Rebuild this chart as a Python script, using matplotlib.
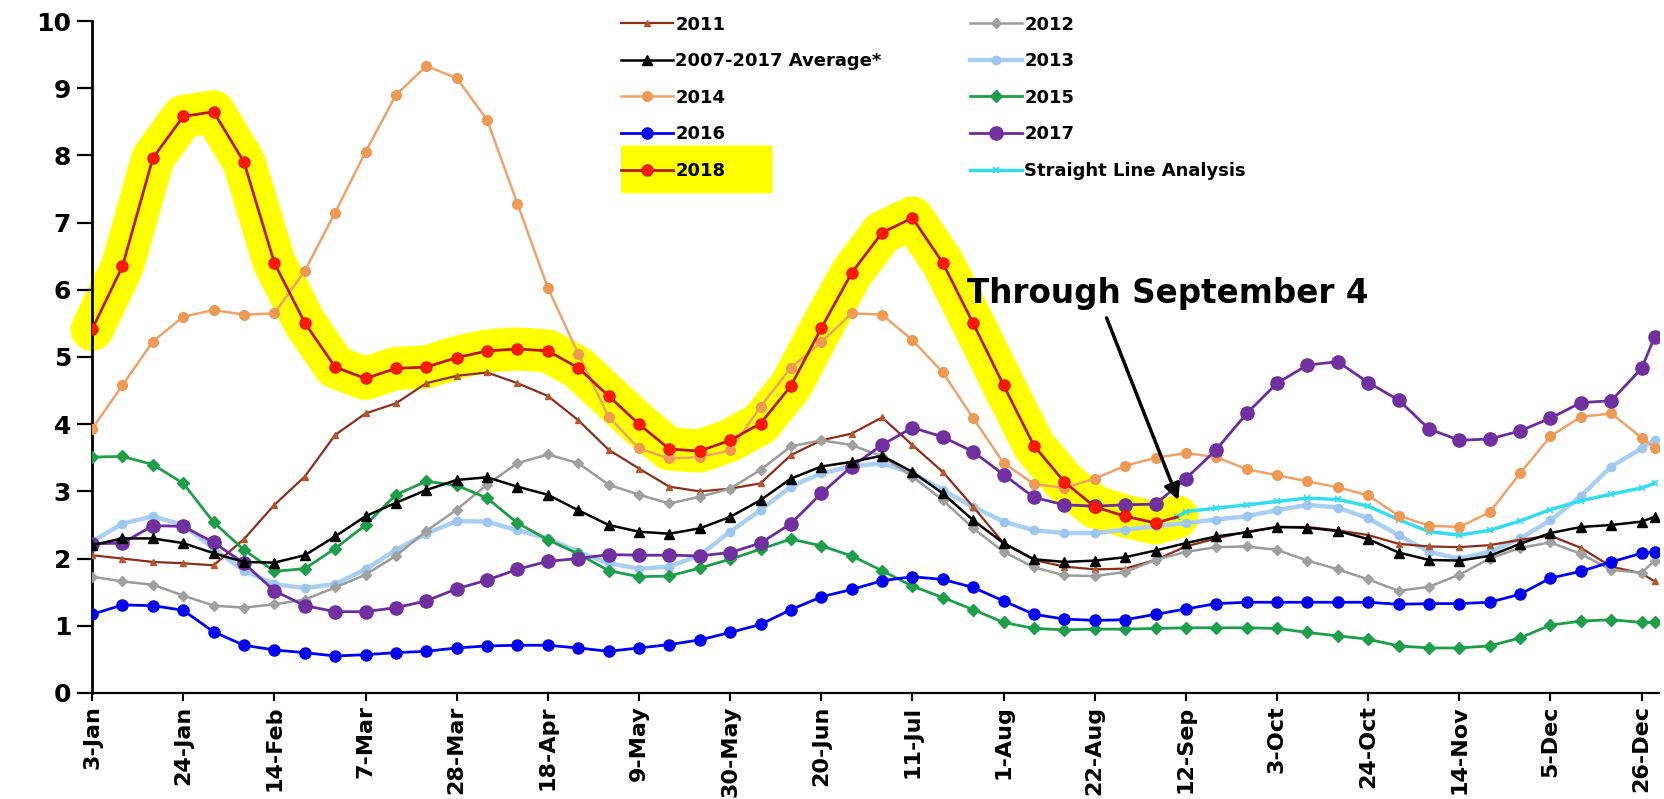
import matplotlib
matplotlib.use("Agg")
import matplotlib.pyplot as plt
from matplotlib.patches import FancyBboxPatch

#
# Data -- weekly values, x given as days after 3-Jan (last point is 29-Dec)
#
days = list(range(0, 358, 7)) + [360]
tick_days = list(range(0, 358, 21))
tick_labels = ["3-Jan", "24-Jan", "14-Feb", "7-Mar", "28-Mar", "18-Apr", "9-May",
               "30-May", "20-Jun", "11-Jul", "1-Aug", "22-Aug", "12-Sep", "3-Oct",
               "24-Oct", "14-Nov", "5-Dec", "26-Dec"]

y2011 = [2.05, 2.00, 1.95, 1.93, 1.90, 2.29, 2.80, 3.22, 3.84, 4.16,
         4.31, 4.61, 4.72, 4.77, 4.61, 4.42, 4.06, 3.62, 3.34, 3.07,
         3.00, 3.04, 3.12, 3.54, 3.76, 3.86, 4.10, 3.69, 3.29, 2.77,
         2.23, 1.98, 1.88, 1.84, 1.85, 1.98, 2.18, 2.30, 2.40, 2.47,
         2.47, 2.42, 2.35, 2.22, 2.18, 2.17, 2.20, 2.28, 2.34, 2.16,
         1.88, 1.78, 1.66]

y_avg = [2.20, 2.30, 2.30, 2.23, 2.08, 1.95, 1.94, 2.05, 2.33, 2.63,
         2.83, 3.02, 3.17, 3.21, 3.07, 2.95, 2.72, 2.50, 2.40, 2.37,
         2.45, 2.62, 2.87, 3.19, 3.37, 3.44, 3.53, 3.29, 2.97, 2.57,
         2.23, 1.99, 1.95, 1.97, 2.02, 2.12, 2.23, 2.33, 2.39, 2.47,
         2.46, 2.41, 2.29, 2.09, 1.98, 1.97, 2.04, 2.22, 2.38, 2.47,
         2.50, 2.55, 2.62]

y2014 = [3.93, 4.58, 5.23, 5.60, 5.70, 5.63, 5.65, 6.28, 7.15, 8.05,
         8.90, 9.33, 9.15, 8.53, 7.28, 6.03, 5.05, 4.11, 3.64, 3.49,
         3.51, 3.61, 4.26, 4.84, 5.22, 5.65, 5.63, 5.25, 4.77, 4.09,
         3.42, 3.11, 3.05, 3.19, 3.38, 3.50, 3.57, 3.51, 3.33, 3.24,
         3.15, 3.06, 2.94, 2.64, 2.49, 2.47, 2.69, 3.27, 3.82, 4.11,
         4.16, 3.80, 3.65]

y2016 = [1.17, 1.31, 1.30, 1.23, 0.91, 0.71, 0.64, 0.60, 0.55, 0.57,
         0.60, 0.62, 0.67, 0.70, 0.71, 0.71, 0.67, 0.62, 0.67, 0.72,
         0.79, 0.90, 1.02, 1.24, 1.43, 1.54, 1.67, 1.73, 1.69, 1.57,
         1.37, 1.17, 1.10, 1.08, 1.09, 1.17, 1.25, 1.33, 1.35, 1.35,
         1.35, 1.35, 1.35, 1.32, 1.33, 1.33, 1.35, 1.47, 1.71, 1.81,
         1.95, 2.08, 2.10]

# 2018 runs through early September; last entry is the partial week
days2018 = days[:36] + [250]
y2018 = [5.41, 6.35, 7.96, 8.58, 8.65, 7.90, 6.40, 5.51, 4.85, 4.68,
         4.83, 4.85, 4.99, 5.09, 5.12, 5.09, 4.84, 4.42, 4.00, 3.63,
         3.60, 3.76, 4.01, 4.57, 5.43, 6.25, 6.85, 7.07, 6.40, 5.50,
         4.58, 3.68, 3.14, 2.77, 2.63, 2.53, 2.62]

y2012 = [1.73, 1.66, 1.61, 1.45, 1.30, 1.27, 1.32, 1.39, 1.57, 1.76,
         2.04, 2.41, 2.73, 3.10, 3.42, 3.55, 3.42, 3.10, 2.95, 2.82,
         2.92, 3.04, 3.32, 3.67, 3.76, 3.69, 3.52, 3.22, 2.87, 2.45,
         2.10, 1.87, 1.75, 1.74, 1.80, 1.98, 2.10, 2.17, 2.18, 2.13,
         1.97, 1.84, 1.69, 1.52, 1.58, 1.76, 2.00, 2.16, 2.24, 2.07,
         1.83, 1.79, 1.97]

y2013 = [2.25, 2.52, 2.63, 2.50, 2.15, 1.82, 1.62, 1.56, 1.62, 1.84,
         2.13, 2.37, 2.56, 2.55, 2.42, 2.30, 2.10, 1.93, 1.85, 1.88,
         2.05, 2.40, 2.72, 3.07, 3.27, 3.37, 3.42, 3.27, 3.02, 2.77,
         2.55, 2.42, 2.38, 2.38, 2.43, 2.48, 2.53, 2.58, 2.63, 2.72,
         2.80, 2.76, 2.60, 2.35, 2.10, 2.00, 2.10, 2.30, 2.57, 2.93,
         3.37, 3.64, 3.76]

y2015 = [3.51, 3.52, 3.40, 3.12, 2.54, 2.13, 1.81, 1.85, 2.15, 2.50,
         2.95, 3.15, 3.09, 2.90, 2.53, 2.28, 2.07, 1.82, 1.73, 1.74,
         1.86, 1.99, 2.14, 2.29, 2.19, 2.04, 1.82, 1.59, 1.42, 1.24,
         1.05, 0.96, 0.94, 0.95, 0.95, 0.96, 0.97, 0.97, 0.97, 0.96,
         0.90, 0.85, 0.80, 0.70, 0.67, 0.67, 0.70, 0.82, 1.01, 1.07,
         1.09, 1.05, 1.05]

y2017 = [2.22, 2.23, 2.49, 2.48, 2.24, 1.93, 1.52, 1.30, 1.21, 1.21,
         1.27, 1.37, 1.55, 1.68, 1.84, 1.96, 2.00, 2.06, 2.05, 2.05,
         2.04, 2.09, 2.23, 2.52, 2.97, 3.37, 3.69, 3.95, 3.81, 3.59,
         3.25, 2.91, 2.80, 2.78, 2.80, 2.81, 3.19, 3.62, 4.16, 4.61,
         4.88, 4.93, 4.62, 4.36, 3.93, 3.76, 3.78, 3.90, 4.09, 4.32,
         4.35, 4.83, 5.30]

# Straight line projection for the rest of 2018
days_sla = [250] + days[36:]
y_sla = [2.62, 2.70, 2.75, 2.80, 2.85, 2.90, 2.88, 2.78, 2.58, 2.40,
         2.35, 2.42, 2.56, 2.73, 2.86, 2.96, 3.05, 3.12]

plt.rcParams["font.family"] = "DejaVu Sans"
plt.rcParams["font.weight"] = "bold"

fig = plt.figure(figsize=(16.65, 7.99), dpi=100)
ax = fig.add_axes([0.0553, 0.1327, 0.9411, 0.841])

# Yellow highlighter behind 2018
ax.plot(days2018, y2018, color="#FFFF00", lw=31, solid_capstyle="round",
        solid_joinstyle="round", zorder=1, clip_on=False)

l11, = ax.plot(days, y2011, color="#8B2F1A", lw=1.6, marker="^", ms=5,
               mfc="#B5562E", mec="#B5562E", zorder=3, label="2011")
l12, = ax.plot(days, y2012, color="#9C9C9C", lw=1.8, marker="D", ms=5,
               mfc="#A0A0A0", mec="#A0A0A0", zorder=3, label="2012")
l13, = ax.plot(days, y2013, color="#A9CFF2", lw=3.2, marker="o", ms=6,
               mfc="#9DC6EE", mec="#9DC6EE", zorder=2, label="2013")
lsl, = ax.plot(days_sla, y_sla, color="#33DDEE", lw=2.5, marker="x", ms=4,
               mew=1.2, zorder=3, label="Straight Line Analysis")
lav, = ax.plot(days, y_avg, color="black", lw=1.8, marker="^", ms=7,
               zorder=4, label="2007-2017 Average*")
l14, = ax.plot(days, y2014, color="#EFA36A", lw=1.8, marker="o", ms=7,
               mfc="#EE9A55", mec="#EE9A55", zorder=3, label="2014")
l15, = ax.plot(days, y2015, color="#1C9E4A", lw=2, marker="D", ms=6,
               zorder=3, label="2015")
l16, = ax.plot(days, y2016, color="#0000F0", lw=2, marker="o", ms=8,
               zorder=3, label="2016")
l17, = ax.plot(days, y2017, color="#6B2CA0", lw=2, marker="o", ms=9.5,
               mfc="#7030A0", mec="#7030A0", zorder=3, label="2017")
l18, = ax.plot(days2018, y2018, color="#B81A0A", lw=2, marker="o", ms=8,
               mfc="#FF1A00", mec="#F01000", markevery=list(range(36)),
               zorder=5, label="2018")

# Axes
ax.set_xlim(0, 361)
ax.set_ylim(0, 10)
ax.set_yticks(range(11))
ax.set_xticks(tick_days)
ax.set_xticklabels(tick_labels, rotation=90, fontsize=16, fontweight="bold")
ax.tick_params(axis="y", labelsize=18, length=11, width=1.6, pad=4)
ax.tick_params(axis="x", length=6, width=1.5, pad=3)
for lab in ax.get_yticklabels():
    lab.set_fontweight("bold")
ax.spines["top"].set_visible(False)
ax.spines["right"].set_visible(False)
ax.spines["left"].set_linewidth(2)
ax.spines["bottom"].set_linewidth(1.6)

# Annotation
ax.text(201.6, 5.95, "Through September 4", fontsize=23.5, fontweight="bold",
        ha="left", va="center", zorder=6)
ax.annotate("", xy=(250.5, 2.83), xytext=(233.5, 5.62),
            arrowprops=dict(arrowstyle="-|>", lw=2.5, color="black",
                            mutation_scale=24), zorder=6)

# Legend (two columns)
handles = [l11, lav, l14, l16, l18, l12, l13, l15, l17, lsl]
leg = ax.legend(handles=handles, ncol=2, frameon=False, fontsize=13,
                loc="upper left", bbox_to_anchor=(621 / 1665, 1 - 15.5 / 799),
                bbox_transform=fig.transFigure, borderaxespad=0, borderpad=0,
                handlelength=2.9, handletextpad=0.1, labelspacing=1.03,
                columnspacing=4.9, numpoints=1)
leg.set_zorder(7)
for t in leg.get_texts():
    t.set_fontweight("bold")

# Yellow box behind the 2018 legend entry
box = FancyBboxPatch((0.375, 0.760), 0.087, 0.056, boxstyle="round,pad=0.002",
                     transform=fig.transFigure, facecolor="#FFFF00",
                     edgecolor="none", clip_on=False, zorder=6)
ax.add_patch(box)

fig.savefig("out.png", dpi=100)
